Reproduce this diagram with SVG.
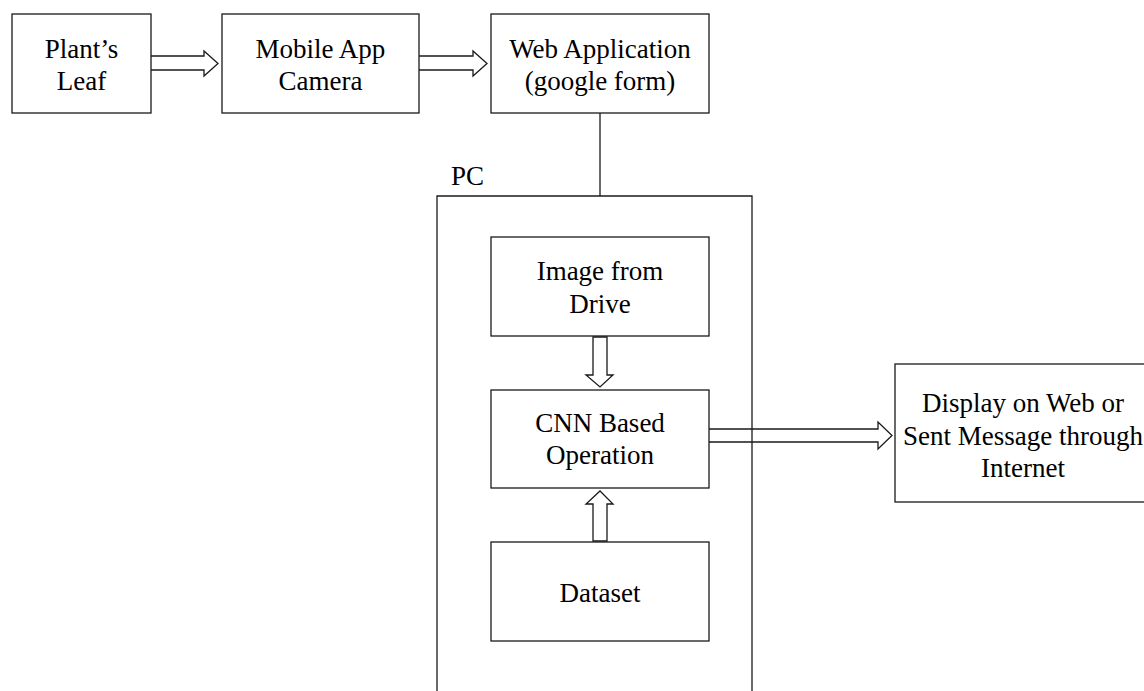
<svg xmlns="http://www.w3.org/2000/svg" width="1144" height="691" viewBox="0 0 1144 691">
<style>
.box{fill:#fff;stroke:#1a1a1a;stroke-width:1.3}
.arr{fill:none;stroke:#1a1a1a;stroke-width:1.3;stroke-linejoin:miter}
.ln{fill:none;stroke:#1a1a1a;stroke-width:1.3}
text{font-family:"Liberation Serif","Times New Roman",serif;font-size:27px;fill:#000;text-anchor:middle}
</style>
<rect width="1144" height="691" fill="#fff"/>
<g id="pc">
<path class="ln" d="M437,700 V196 H752 V700"/>
<text x="451" y="185" style="text-anchor:start">PC</text>
</g>
<g id="leaf">
<rect class="box" x="12" y="14" width="139" height="99"/>
<text x="81.5" y="58">Plant’s</text>
<text x="81.5" y="90">Leaf</text>
</g>
<g id="camera">
<rect class="box" x="222" y="14" width="197" height="99"/>
<text x="320.5" y="58">Mobile App</text>
<text x="320.5" y="90">Camera</text>
</g>
<g id="webapp">
<rect class="box" x="491" y="14" width="218" height="99"/>
<text x="600" y="58">Web Application</text>
<text x="600" y="90">(google form)</text>
</g>
<g id="image">
<rect class="box" x="491" y="237" width="218" height="99"/>
<text x="600" y="280">Image from</text>
<text x="600" y="313">Drive</text>
</g>
<g id="cnn">
<rect class="box" x="491" y="390" width="218" height="98"/>
<text x="600" y="432">CNN Based</text>
<text x="600" y="464">Operation</text>
</g>
<g id="dataset">
<rect class="box" x="491" y="542" width="218" height="99"/>
<text x="600" y="602">Dataset</text>
</g>
<g id="display">
<rect class="box" x="895" y="364" width="256" height="138"/>
<text x="1023" y="412">Display on Web or</text>
<text x="1023" y="445">Sent Message through</text>
<text x="1023" y="477">Internet</text>
</g>
<g id="connectors">
<line class="ln" x1="600" y1="113" x2="600" y2="196"/>
<path class="arr" d="M151,56 H204 V51 L218,63.5 L204,76 V70 H151"/>
<path class="arr" d="M419,56 H473 V51 L487,63.5 L473,76 V70 H419"/>
<path class="arr" d="M593,337 V375 H586 L600,387 L613,375 H607 V337 Z"/>
<path class="arr" d="M593,541 V504 H586 L600,491 L613,504 H607 V541 Z"/>
<path class="arr" d="M709,429 H878 V422 L892,435.5 L878,449 V442 H709"/>
</g>
</svg>
